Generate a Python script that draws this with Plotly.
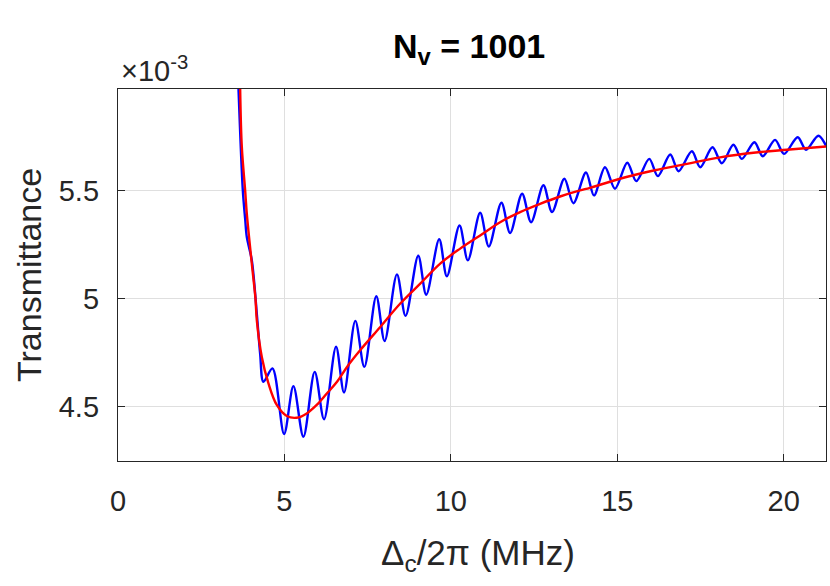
import plotly.graph_objects as go

# Blue curve (values in units of 1e-3): peaks/troughs
blue_x = [3.62, 3.75, 3.82, 3.87, 4.02, 4.17, 4.27, 4.37, 4.64, 4.99, 5.27, 5.57, 5.91, 6.19,
          6.55, 6.79, 7.13, 7.40, 7.76, 8.01, 8.38, 8.64, 9.02, 9.26, 9.65, 9.88, 10.26, 10.51,
          10.88, 11.14, 11.52, 11.78, 12.14, 12.41, 12.78, 13.04, 13.41, 13.68, 14.06, 14.30,
          14.63, 14.93, 15.30, 15.57, 15.96, 16.22, 16.59, 16.84, 17.24, 17.49, 17.86, 18.14,
          18.49, 18.74, 19.12, 19.37, 19.74, 20.01, 20.42, 20.67, 21.04, 21.27]
blue_y = [5.969, 5.5, 5.369, 5.284, 5.177, 4.931, 4.746, 4.615, 4.677, 4.374, 4.595, 4.361, 4.661, 4.442,
          4.777, 4.566, 4.897, 4.684, 5.011, 4.804, 5.112, 4.920, 5.198, 5.018, 5.274, 5.103, 5.338, 5.177,
          5.397, 5.241, 5.443, 5.303, 5.485, 5.353, 5.524, 5.400, 5.554, 5.441, 5.583, 5.477,
          5.607, 5.508, 5.628, 5.543, 5.646, 5.566, 5.666, 5.589, 5.681, 5.607, 5.700, 5.626,
          5.711, 5.646, 5.723, 5.658, 5.734, 5.669, 5.746, 5.688, 5.753, 5.707]

# Red curve (values in units of 1e-3)
red_x = [3.67, 3.72, 3.82, 3.87, 4.02, 4.13, 4.17, 4.32, 4.52, 4.77, 5.07, 5.37, 5.67, 5.97,
         6.28, 6.58, 6.88, 7.28, 7.88, 8.48, 9.08, 9.68, 10.28, 10.88, 11.48, 12.08, 12.68,
         13.28, 13.88, 14.18, 15.08, 16.09, 17.09, 18.09, 19.09, 20.09, 21.27]
red_y = [5.969, 5.70, 5.5, 5.392, 5.161, 5.0, 4.90, 4.73, 4.608, 4.508, 4.457, 4.449, 4.469, 4.508,
         4.562, 4.615, 4.684, 4.762, 4.869, 4.977, 5.069, 5.162, 5.231, 5.292, 5.353, 5.400, 5.438,
         5.472, 5.500, 5.512, 5.554, 5.592, 5.623, 5.653, 5.674, 5.688, 5.703]

x_ticks = [0, 5, 10, 15, 20]
y_ticks = [4.5, 5, 5.5]
y_tick_labels = ["4.5", "5", "5.5"]

FONT = "Liberation Sans, Arial, sans-serif"
AX = "#262626"

fig = go.Figure()
fig.add_trace(go.Scatter(x=blue_x, y=blue_y, mode="lines",
                         line=dict(color="#0000ff", width=2.4, shape="spline", smoothing=0.9),
                         showlegend=False, hoverinfo="skip"))
fig.add_trace(go.Scatter(x=red_x, y=red_y, mode="lines",
                         line=dict(color="#ff0000", width=2.4, shape="spline", smoothing=1.0),
                         showlegend=False, hoverinfo="skip"))

axis_common = dict(showgrid=True, gridcolor="#dfdfdf", gridwidth=1,
                   showline=True, linecolor=AX, linewidth=1.3, mirror="ticks",
                   ticks="inside", ticklen=7, tickcolor=AX, zeroline=False,
                   tickfont=dict(size=29, color=AX, family=FONT))

fig.update_layout(
    width=830, height=586,
    paper_bgcolor="white", plot_bgcolor="white",
    margin=dict(l=118, r=4, t=89, b=125),
    font=dict(family=FONT, color=AX),
    xaxis=dict(range=[0, 21.27], tickvals=x_ticks, ticklabelstandoff=14, **axis_common),
    yaxis=dict(range=[4.249, 5.969], tickvals=y_ticks, ticktext=y_tick_labels,
               ticklabelstandoff=12, **axis_common),
    annotations=[
        dict(text="<b>N<sub>v</sub> = 1001</b>", xref="paper", yref="paper", x=0.496, y=1.0,
             xanchor="center", yanchor="bottom", yshift=17, showarrow=False,
             font=dict(size=34, color="black", family=FONT)),
        dict(text="×10<sup>-3</sup>", xref="paper", yref="paper", x=0.0, y=1.0,
             xanchor="left", yanchor="bottom", showarrow=False, xshift=1, yshift=0,
             font=dict(size=29, color=AX, family=FONT)),
        dict(text="Transmittance", xref="paper", yref="paper", x=0.0, y=0.5, textangle=-90,
             xanchor="center", yanchor="middle", xshift=-89, showarrow=False,
             font=dict(size=34, color=AX, family=FONT)),
        dict(text="Δ<sub>c</sub>/2π (MHz)", xref="paper", yref="paper", x=0.508, y=0.0,
             xanchor="center", yanchor="top", yshift=-70, showarrow=False,
             font=dict(size=35, color=AX, family=FONT)),
    ],
)

fig.write_html("out.html", config={"displayModeBar": False},
               post_script="document.body.style.margin='0px';")
